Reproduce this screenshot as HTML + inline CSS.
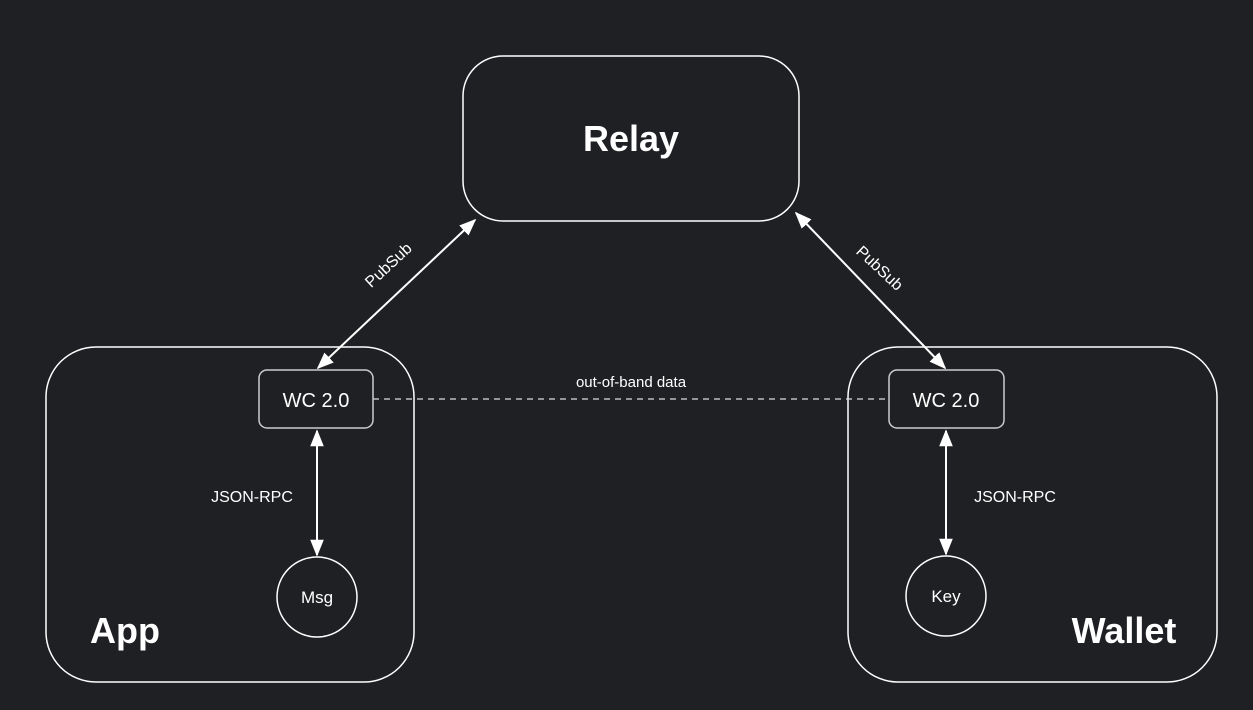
<!DOCTYPE html>
<html><head><style>
html,body{margin:0;padding:0;background:#1f2023;}
svg{display:block}
text{font-family:"Liberation Sans",sans-serif;fill:#fff}
</style></head><body>
<svg width="1253" height="710" viewBox="0 0 1253 710" xmlns="http://www.w3.org/2000/svg">
<defs>
<marker id="a" viewBox="0 0 10 10" refX="9" refY="5" markerWidth="8.5" markerHeight="8.5" orient="auto-start-reverse">
<path d="M0,1 L10,5 L0,9 Z" fill="#fff"/>
</marker>
</defs>
<rect width="1253" height="710" fill="#1f2023"/>
<rect x="463" y="56" width="336" height="165" rx="40" fill="none" stroke="#fff" stroke-width="1.5"/>
<text x="631" y="151" font-size="36" font-weight="bold" text-anchor="middle">Relay</text>
<rect x="46" y="347" width="368" height="335" rx="50" fill="none" stroke="#fff" stroke-width="1.5"/>
<rect x="848" y="347" width="369" height="335" rx="50" fill="none" stroke="#fff" stroke-width="1.5"/>
<text x="125" y="643" font-size="36" font-weight="bold" text-anchor="middle">App</text>
<text x="1124" y="643" font-size="36" font-weight="bold" text-anchor="middle">Wallet</text>
<line x1="373" y1="399" x2="889" y2="399" stroke="#ddd" stroke-width="1.2" stroke-dasharray="6,5"/>
<text x="631" y="387" font-size="15" text-anchor="middle">out-of-band data</text>
<rect x="259" y="370" width="114" height="58" rx="8" fill="#1f2023" stroke="#ccc" stroke-width="1.5"/>
<rect x="889" y="370" width="115" height="58" rx="8" fill="#1f2023" stroke="#ccc" stroke-width="1.5"/>
<text x="316" y="407" font-size="20" text-anchor="middle">WC 2.0</text>
<text x="946" y="407" font-size="20" text-anchor="middle">WC 2.0</text>
<circle cx="317" cy="597" r="40" fill="none" stroke="#fff" stroke-width="1.5"/>
<circle cx="946" cy="596" r="40" fill="none" stroke="#fff" stroke-width="1.5"/>
<text x="317" y="603" font-size="17" text-anchor="middle">Msg</text>
<text x="946" y="602" font-size="17" text-anchor="middle">Key</text>
<line x1="475" y1="220" x2="318" y2="368" stroke="#fff" stroke-width="2" marker-start="url(#a)" marker-end="url(#a)"/>
<line x1="796" y1="213" x2="945" y2="368" stroke="#fff" stroke-width="2" marker-start="url(#a)" marker-end="url(#a)"/>
<line x1="317" y1="431" x2="317" y2="555" stroke="#fff" stroke-width="2" marker-start="url(#a)" marker-end="url(#a)"/>
<line x1="946" y1="431" x2="946" y2="554" stroke="#fff" stroke-width="2" marker-start="url(#a)" marker-end="url(#a)"/>
<text x="252" y="502" font-size="16" text-anchor="middle">JSON-RPC</text>
<text x="1015" y="502" font-size="16" text-anchor="middle">JSON-RPC</text>
<text transform="translate(392,269) rotate(-43)" font-size="16" text-anchor="middle">PubSub</text>
<text transform="translate(876,272) rotate(43)" font-size="16" text-anchor="middle">PubSub</text>
</svg>
</body></html>
